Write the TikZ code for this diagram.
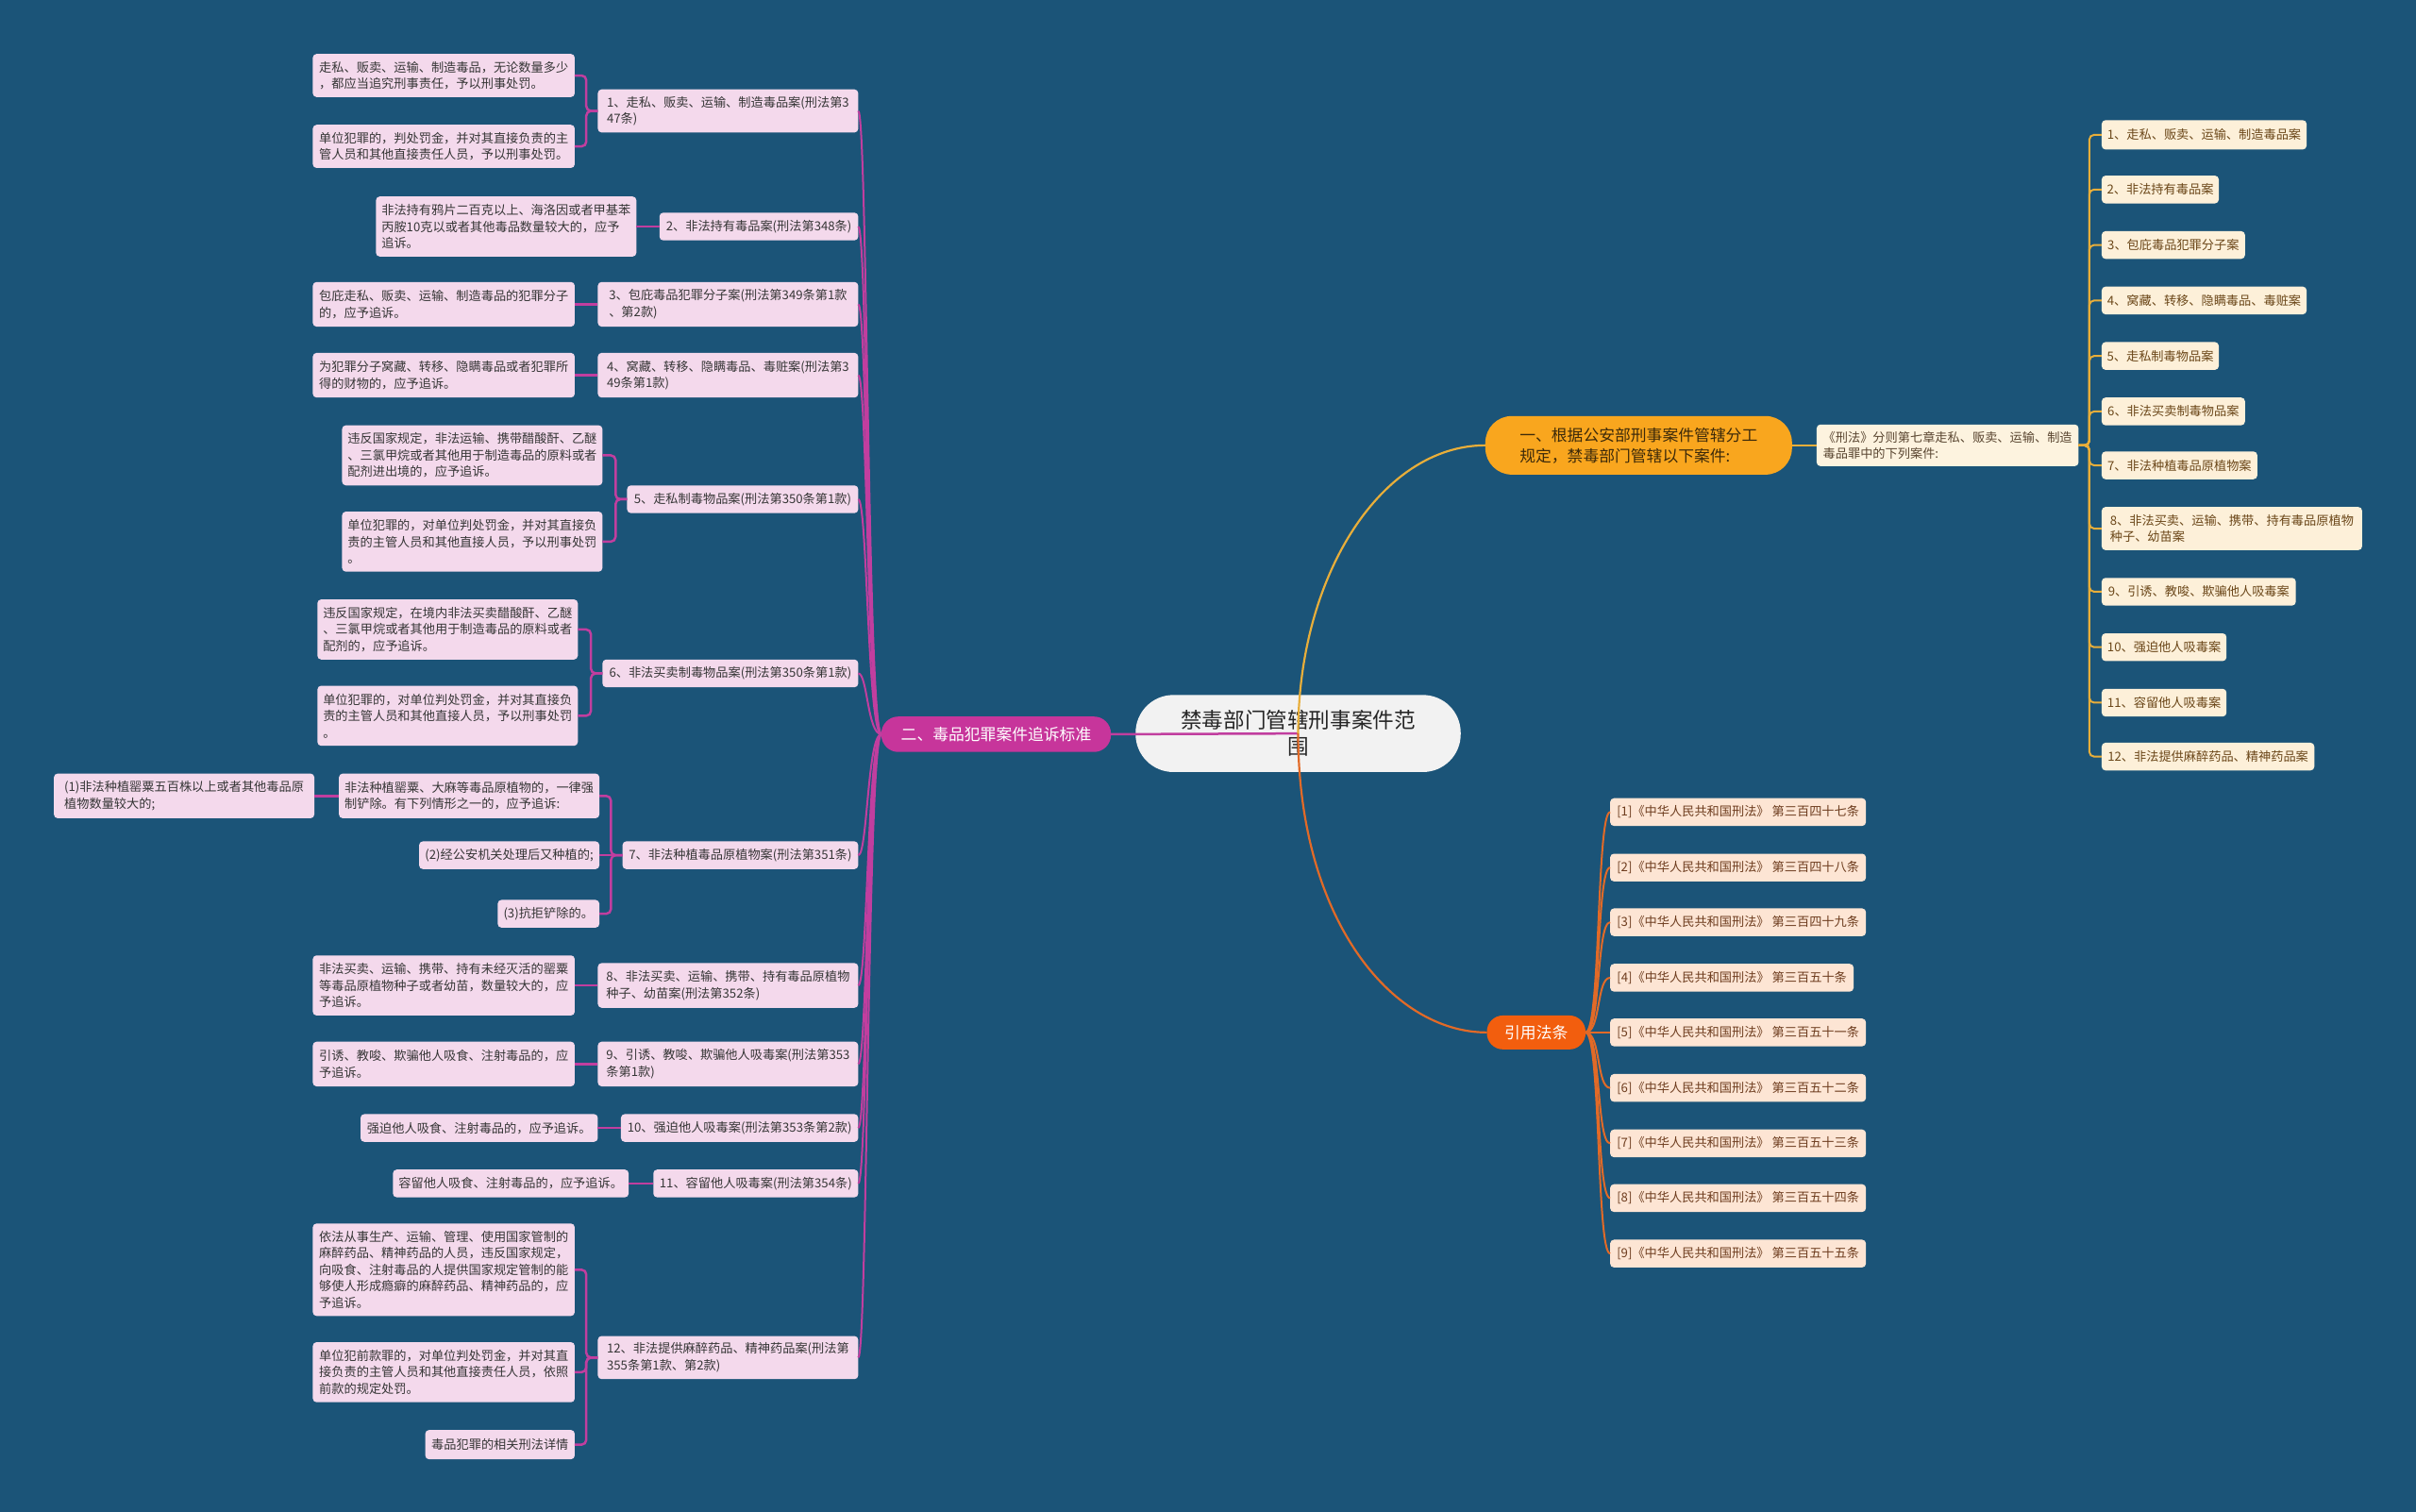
\documentclass[tikz,border=0pt]{standalone}
\usepackage{fontspec}
\setmainfont{Noto Sans CJK SC}
\usetikzlibrary{calc}
\definecolor{bg}{HTML}{1B5478}
\definecolor{pinkL}{HTML}{F4D9EC}
\definecolor{txtL}{HTML}{363636}
\definecolor{magB}{HTML}{C7359B}
\definecolor{magL}{HTML}{C13E9F}
\definecolor{creamR}{HTML}{FDF0D9}
\definecolor{txtR}{HTML}{6B4719}
\definecolor{creamK}{HTML}{FDF3DF}
\definecolor{txtK}{HTML}{5A4631}
\definecolor{goldL}{HTML}{E8AE3A}
\definecolor{orgB}{HTML}{F9A61E}
\definecolor{txtO}{HTML}{3D2A0A}
\definecolor{peach}{HTML}{FDE5D4}
\definecolor{txtC}{HTML}{6E3D1F}
\definecolor{redB}{HTML}{F25E0E}
\definecolor{orgL}{HTML}{E26A27}
\definecolor{rootF}{HTML}{F2F2F2}
\definecolor{txtRoot}{HTML}{262626}
\tikzset{
  nb/.style={inner sep=0pt, outer sep=0pt},
  smallfont/.style={font=\fontsize{13.2bp}{17.5bp}\selectfont},
  leafL/.style={nb, fill=pinkL, rounded corners=4bp, align=left, text=txtL, smallfont},
  leafR/.style={nb, fill=creamR, rounded corners=4bp, align=left, text=txtR, smallfont},
  midR/.style={nb, fill=creamK, rounded corners=4bp, align=left, text=txtK, smallfont},
  citeS/.style={nb, fill=peach, rounded corners=4bp, align=left, text=txtC, smallfont},
  brM/.style={nb, fill=magB, rounded corners=18bp, text=white, font=\fontsize{16.8bp}{22bp}\selectfont},
  brO/.style={nb, fill=orgB, rounded corners=28bp, align=left, text=txtO, font=\fontsize{16.8bp}{22bp}\selectfont},
  brR/.style={nb, fill=redB, rounded corners=17bp, text=white, font=\fontsize{16.8bp}{22bp}\selectfont},
  rootS/.style={nb, fill=rootF, rounded corners=40bp, align=center, text=txtRoot, font=\fontsize{22.6bp}{28bp}\selectfont},
  mline/.style={draw=magL, line width=2bp},
  bline/.style={draw=magL, line width=2.5bp, rounded corners=5bp},
  gline/.style={draw=goldL, line width=2bp},
  oline/.style={draw=orgL, line width=2bp},
}
\newcommand\placebox[7]{%
  \pgfmathsetmacro\bw{(#4-#2)*1.6327}%
  \pgfmathsetmacro\bh{(#5-#3)*1.6327}%
  \node[#6, minimum width=\bw bp, minimum height=\bh bp] (#1) at ({(#2+#4)/2},{(#3+#5)/2}) {#7};}
\newcommand\brk[2]{\draw[bline] (#1.west) -- ++(-7.5,0) |- (#2.east);}
\begin{document}
\begin{tikzpicture}[x=1.6327bp,y=-1.6327bp]
\fill[bg] (0,0) rectangle (1568,981);

% ---------- left branch ----------
\placebox{a1}{203}{35}{373}{63}{leafL}{走私、贩卖、运输、制造毒品，无论数量多少\\，都应当追究刑事责任，予以刑事处罚。}
\placebox{a2}{203}{81}{373}{109}{leafL}{单位犯罪的，判处罚金，并对其直接负责的主\\管人员和其他直接责任人员，予以刑事处罚。}
\placebox{c1}{388}{58}{557}{86}{leafL}{1、走私、贩卖、运输、制造毒品案(刑法第3\\47条)}
\placebox{b}{244}{127.5}{413}{166.5}{leafL}{非法持有鸦片二百克以上、海洛因或者甲基苯\\丙胺10克以或者其他毒品数量较大的，应予\\追诉。}
\placebox{c2}{428}{138}{557}{156}{leafL}{2、非法持有毒品案(刑法第348条)}
\placebox{cc}{203}{183}{373}{212}{leafL}{包庇走私、贩卖、运输、制造毒品的犯罪分子\\的，应予追诉。}
\placebox{c3}{388}{183}{557}{212}{leafL}{3、包庇毒品犯罪分子案(刑法第349条第1款\\、第2款)}
\placebox{d}{203}{229}{373}{258}{leafL}{为犯罪分子窝藏、转移、隐瞒毒品或者犯罪所\\得的财物的，应予追诉。}
\placebox{c4}{388}{229}{557}{258}{leafL}{4、窝藏、转移、隐瞒毒品、毒赃案(刑法第3\\49条第1款)}
\placebox{e1}{222}{276}{391}{315}{leafL}{违反国家规定，非法运输、携带醋酸酐、乙醚\\、三氯甲烷或者其他用于制造毒品的原料或者\\配剂进出境的，应予追诉。}
\placebox{e2}{222}{332}{391}{371}{leafL}{单位犯罪的，对单位判处罚金，并对其直接负\\责的主管人员和其他直接人员，予以刑事处罚\\。}
\placebox{c5}{407}{315}{557}{333}{leafL}{5、走私制毒物品案(刑法第350条第1款)}
\placebox{f1}{206}{389}{375}{428}{leafL}{违反国家规定，在境内非法买卖醋酸酐、乙醚\\、三氯甲烷或者其他用于制造毒品的原料或者\\配剂的，应予追诉。}
\placebox{f2}{206}{445}{375}{484}{leafL}{单位犯罪的，对单位判处罚金，并对其直接负\\责的主管人员和其他直接人员，予以刑事处罚\\。}
\placebox{c6}{391}{428}{557}{446}{leafL}{6、非法买卖制毒物品案(刑法第350条第1款)}
\placebox{g0}{35}{502}{204}{531}{leafL}{(1)非法种植罂粟五百株以上或者其他毒品原\\植物数量较大的;}
\placebox{g1}{220}{502}{389}{531}{leafL}{非法种植罂粟、大麻等毒品原植物的，一律强\\制铲除。有下列情形之一的，应予追诉:}
\placebox{g2}{272}{546}{389}{564}{leafL}{(2)经公安机关处理后又种植的;}
\placebox{g3}{323}{584}{389}{602}{leafL}{(3)抗拒铲除的。}
\placebox{c7}{404}{546}{557}{564}{leafL}{7、非法种植毒品原植物案(刑法第351条)}
\placebox{h}{203}{620}{373}{659}{leafL}{非法买卖、运输、携带、持有未经灭活的罂粟\\等毒品原植物种子或者幼苗，数量较大的，应\\予追诉。}
\placebox{c8}{388}{625}{557}{654}{leafL}{8、非法买卖、运输、携带、持有毒品原植物\\种子、幼苗案(刑法第352条)}
\placebox{i}{203}{676}{373}{705}{leafL}{引诱、教唆、欺骗他人吸食、注射毒品的，应\\予追诉。}
\placebox{c9}{388}{676}{557}{705}{leafL}{9、引诱、教唆、欺骗他人吸毒案(刑法第353\\条第1款)}
\placebox{j}{234}{723}{388}{741}{leafL}{强迫他人吸食、注射毒品的，应予追诉。}
\placebox{c10}{403}{723}{557}{741}{leafL}{10、强迫他人吸毒案(刑法第353条第2款)}
\placebox{k}{255}{759}{408}{777}{leafL}{容留他人吸食、注射毒品的，应予追诉。}
\placebox{c11}{424}{759}{557}{777}{leafL}{11、容留他人吸毒案(刑法第354条)}
\placebox{l1}{203}{794}{373}{854}{leafL}{依法从事生产、运输、管理、使用国家管制的\\麻醉药品、精神药品的人员，违反国家规定，\\向吸食、注射毒品的人提供国家规定管制的能\\够使人形成瘾癖的麻醉药品、精神药品的，应\\予追诉。}
\placebox{l2}{203}{871}{373}{910}{leafL}{单位犯前款罪的，对单位判处罚金，并对其直\\接负责的主管人员和其他直接责任人员，依照\\前款的规定处罚。}
\placebox{l3}{276}{928}{373}{947}{leafL}{毒品犯罪的相关刑法详情}
\placebox{c12}{388}{867}{557}{895}{leafL}{12、非法提供麻醉药品、精神药品案(刑法第\\355条第1款、第2款)}

% ---------- right branch ----------
\placebox{r1}{1364}{78}{1497}{97}{leafR}{1、走私、贩卖、运输、制造毒品案}
\placebox{r2}{1364}{114}{1440}{132}{leafR}{2、非法持有毒品案}
\placebox{r3}{1364}{150}{1457}{168}{leafR}{3、包庇毒品犯罪分子案}
\placebox{r4}{1364}{186}{1497}{204}{leafR}{4、窝藏、转移、隐瞒毒品、毒赃案}
\placebox{r5}{1364}{222}{1440}{240}{leafR}{5、走私制毒物品案}
\placebox{r6}{1364}{258}{1457}{276}{leafR}{6、非法买卖制毒物品案}
\placebox{r7}{1364}{293}{1465}{311}{leafR}{7、非法种植毒品原植物案}
\placebox{r8}{1364}{329}{1533}{357}{leafR}{8、非法买卖、运输、携带、持有毒品原植物\\种子、幼苗案}
\placebox{r9}{1364}{375}{1490}{393}{leafR}{9、引诱、教唆、欺骗他人吸毒案}
\placebox{r10}{1364}{411}{1445}{429}{leafR}{10、强迫他人吸毒案}
\placebox{r11}{1364}{447}{1445}{465}{leafR}{11、容留他人吸毒案}
\placebox{r12}{1364}{482}{1502}{500}{leafR}{12、非法提供麻醉药品、精神药品案}
\placebox{kx}{1179}{275.5}{1349}{302.5}{midR}{《刑法》分则第七章走私、贩卖、运输、制造\\毒品罪中的下列案件:}

% ---------- citations ----------
\placebox{q1}{1045}{518}{1211}{536}{citeS}{[1]《中华人民共和国刑法》 第三百四十七条}
\placebox{q2}{1045}{554}{1211}{572}{citeS}{[2]《中华人民共和国刑法》 第三百四十八条}
\placebox{q3}{1045}{589.5}{1211}{607.5}{citeS}{[3]《中华人民共和国刑法》 第三百四十九条}
\placebox{q4}{1045}{625.5}{1203}{643.5}{citeS}{[4]《中华人民共和国刑法》 第三百五十条}
\placebox{q5}{1045}{661}{1211}{679}{citeS}{[5]《中华人民共和国刑法》 第三百五十一条}
\placebox{q6}{1045}{697}{1211}{715}{citeS}{[6]《中华人民共和国刑法》 第三百五十二条}
\placebox{q7}{1045}{733}{1211}{751}{citeS}{[7]《中华人民共和国刑法》 第三百五十三条}
\placebox{q8}{1045}{768.5}{1211}{786.5}{citeS}{[8]《中华人民共和国刑法》 第三百五十四条}
\placebox{q9}{1045}{804.5}{1211}{822.5}{citeS}{[9]《中华人民共和国刑法》 第三百五十五条}

% ---------- main branches and root ----------
\placebox{two}{572}{465}{721}{488}{brM}{二、毒品犯罪案件追诉标准}
\placebox{one}{964}{270}{1163}{308}{brO}{一、根据公安部刑事案件管辖分工\\规定，禁毒部门管辖以下案件:}
\placebox{cite}{965}{659}{1029}{681}{brR}{引用法条}
\placebox{root}{737}{451}{948}{501}{rootS}{禁毒部门管辖刑事案件范\\围}

% ---------- connectors: left ----------
\foreach \c in {c1,c2,c3,c4,c5,c6,c7,c8,c9,c10,c11,c12}
  \draw[mline] (two.west) .. controls ($(two.west)+(-9,0)$) and ($(\c.east)+(6,0)$) .. (\c.east);
\brk{c1}{a1}
\brk{c1}{a2}
\draw[bline] (c2.west) -- (b.east);
\draw[bline] (c3.west) -- (cc.east);
\draw[bline] (c4.west) -- (d.east);
\brk{c5}{e1}
\brk{c5}{e2}
\brk{c6}{f1}
\brk{c6}{f2}
\brk{c7}{g1}
\draw[bline] (c7.west) -- (g2.east);
\brk{c7}{g3}
\draw[bline] (g1.west) -- (g0.east);
\draw[bline] (c8.west) -- (h.east);
\draw[bline] (c9.west) -- (i.east);
\draw[bline] (c10.west) -- (j.east);
\draw[bline] (c11.west) -- (k.east);
\brk{c12}{l1}
\brk{c12}{l2}
\brk{c12}{l3}

% ---------- connectors: right ----------
\draw[gline] (one.east) -- (kx.west);
\foreach \r in {r1,r2,r3,r4,r5,r6,r7,r8,r9,r10,r11,r12}
  \draw[gline, rounded corners=5bp] (kx.east) -- ++(7,0) |- (\r.west);

% ---------- connectors: citations ----------
\foreach \q in {q1,q2,q3,q4,q5,q6,q7,q8,q9}
  \draw[oline] (cite.east) .. controls ($(cite.east)+(10,0)$) and ($(\q.west)+(-9,0)$) .. (\q.west);

% ---------- connectors from root (drawn over it) ----------
\draw[mline, line width=2.5bp] (root.center) -- (two.east);
\draw[gline, line width=2.2bp] (root.center) .. controls ($(root.center)+(0,-103)$) and ($(one.west)+(-67,0)$) .. (one.west);
\draw[oline, line width=2.2bp] (root.center) .. controls ($(root.center)+(0,120)$) and ($(cite.west)+(-62,0)$) .. (cite.west);
\end{tikzpicture}
\end{document}
